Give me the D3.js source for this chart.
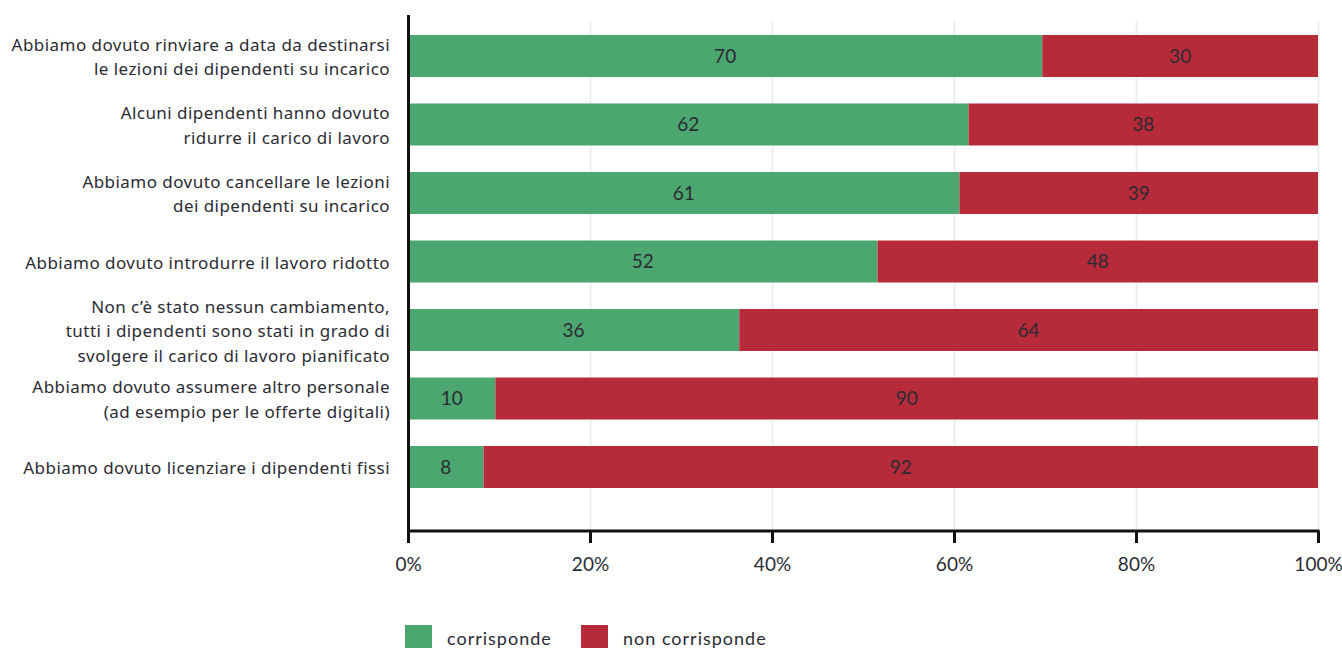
<!DOCTYPE html>
<html>
<head>
<meta charset="utf-8">
<script src="https://cdn.jsdelivr.net/npm/d3@7"></script>
<style>
  body { margin: 0; background: #fff; }
  svg { display: block; font-family: Lato, "Noto Sans", sans-serif; }
</style>
</head>
<body>
<div id="chart"></div>
<script>
// dati
const categories = [
  ["Abbiamo dovuto rinviare a data da destinarsi", "le lezioni dei dipendenti su incarico"],
  ["Alcuni dipendenti hanno dovuto", "ridurre il carico di lavoro"],
  ["Abbiamo dovuto cancellare le lezioni", "dei dipendenti su incarico"],
  ["Abbiamo dovuto introdurre il lavoro ridotto"],
  ["Non c’è stato nessun cambiamento,", "tutti i dipendenti sono stati in grado di", "svolgere il carico di lavoro pianificato"],
  ["Abbiamo dovuto assumere altro personale", "(ad esempio per le offerte digitali)"],
  ["Abbiamo dovuto licenziare i dipendenti fissi"]
]
const corrisponde = [69.7, 61.6, 60.6, 51.6, 36.4, 9.6, 8.3]
const nonCorrisponde = [30.3, 38.4, 39.4, 48.4, 63.6, 90.4, 91.7]
const seriesNames = ["corrisponde", "non corrisponde"]
const seriesColors = ["#4ca670", "#b72a3a"]
const ticks = [0, 20, 40, 60, 80, 100]

drawbar()

function drawbar() {
  const width = 1342
  const height = 648
  const svg = d3.select("#chart").append("svg")
    .attr("width", width)
    .attr("height", height)

  const left = 408, right = 1318, top = 15, bottom = 531

  const x = d3.scaleLinear().domain([0, 100]).range([left, right])
  const y = d3.scaleBand()
    .domain(d3.range(categories.length))
    .range([21.3, 501.7])
    .paddingInner(0.387)
    .paddingOuter(0.2)

  // griglia
  svg.append("g")
    .selectAll("line")
    .data(ticks.slice(1))
    .join("line")
    .attr("x1", d => x(d) + 0.5)
    .attr("x2", d => x(d) + 0.5)
    .attr("y1", 21)
    .attr("y2", bottom)
    .attr("stroke", "#e9f1ef")
    .attr("stroke-width", 2)

  const data = categories.map((c, i) => ({ i: i, a: corrisponde[i], b: nonCorrisponde[i] }))

  const row = svg.append("g").selectAll("g")
    .data(data)
    .join("g")
    .attr("transform", d => `translate(0,${y(d.i)})`)

  row.append("rect")
    .attr("x", x(0))
    .attr("y", 0)
    .attr("width", d => x(d.a) - x(0))
    .attr("height", y.bandwidth())
    .attr("fill", seriesColors[0])

  row.append("rect")
    .attr("x", d => x(d.a))
    .attr("y", 0)
    .attr("width", d => x(d.a + d.b) - x(d.a))
    .attr("height", y.bandwidth())
    .attr("fill", seriesColors[1])

  row.append("text")
    .attr("x", d => x(d.a / 2))
    .attr("y", y.bandwidth() / 2)
    .attr("dy", "0.36em")
    .attr("text-anchor", "middle")
    .style("font-size", "19px")
    .style("fill", "#2b2b33")
    .text(d => Math.round(d.a))

  row.append("text")
    .attr("x", d => x(d.a + d.b / 2))
    .attr("y", y.bandwidth() / 2)
    .attr("dy", "0.36em")
    .attr("text-anchor", "middle")
    .style("font-size", "19px")
    .style("fill", "#2b2b33")
    .text(d => Math.round(d.b))

  // etichette categorie
  const lineH = 24.5
  const lab = svg.append("g").selectAll("text")
    .data(categories)
    .join("text")
    .attr("text-anchor", "end")
    .style("font-size", "17px")
    .style("font-family", "'Noto Sans', sans-serif")
    .style("letter-spacing", "0.45px")
    .style("fill", "#2b2b33")
    .attr("transform", (d, i) => `translate(390,${y(i) + y.bandwidth() / 2 - (d.length - 1) * lineH / 2 + 1})`)
  lab.selectAll("tspan")
    .data(d => d)
    .join("tspan")
    .attr("x", 0)
    .attr("y", (d, j) => j * lineH)
    .attr("dy", "0.36em")
    .text(d => d)

  // assi
  const xAxis = svg.append("g")
    .attr("transform", `translate(0,${bottom})`)
    .call(d3.axisBottom(x).tickValues(ticks).tickSize(12).tickFormat(d => d + "%"))
  xAxis.select(".domain").attr("stroke", "#111").attr("stroke-width", 3).attr("d", `M${left},0H${right + 1.5}`)
  xAxis.selectAll(".tick line").attr("stroke", "#111").attr("stroke-width", 3)
  xAxis.selectAll(".tick text")
    .attr("y", 27)
    .style("font-size", "19px")
    .style("font-family", "Lato, sans-serif")
    .style("fill", "#2b2b33")

  svg.append("line")
    .attr("x1", left + 0.5)
    .attr("x2", left + 0.5)
    .attr("y1", top)
    .attr("y2", bottom)
    .attr("stroke", "#111")
    .attr("stroke-width", 3)

  // legenda
  const legendX = [405, 581]
  const leg = svg.append("g").selectAll("g")
    .data(seriesNames)
    .join("g")
    .attr("transform", (d, i) => `translate(${legendX[i]},625)`)
  leg.append("rect")
    .attr("width", 27)
    .attr("height", 27)
    .attr("fill", (d, i) => seriesColors[i])
  leg.append("text")
    .attr("x", 42)
    .attr("y", 20)
    .style("font-size", "18px")
    .style("letter-spacing", "1px")
    .style("fill", "#2b2b33")
    .text(d => d)
}
</script>
</body>
</html>
